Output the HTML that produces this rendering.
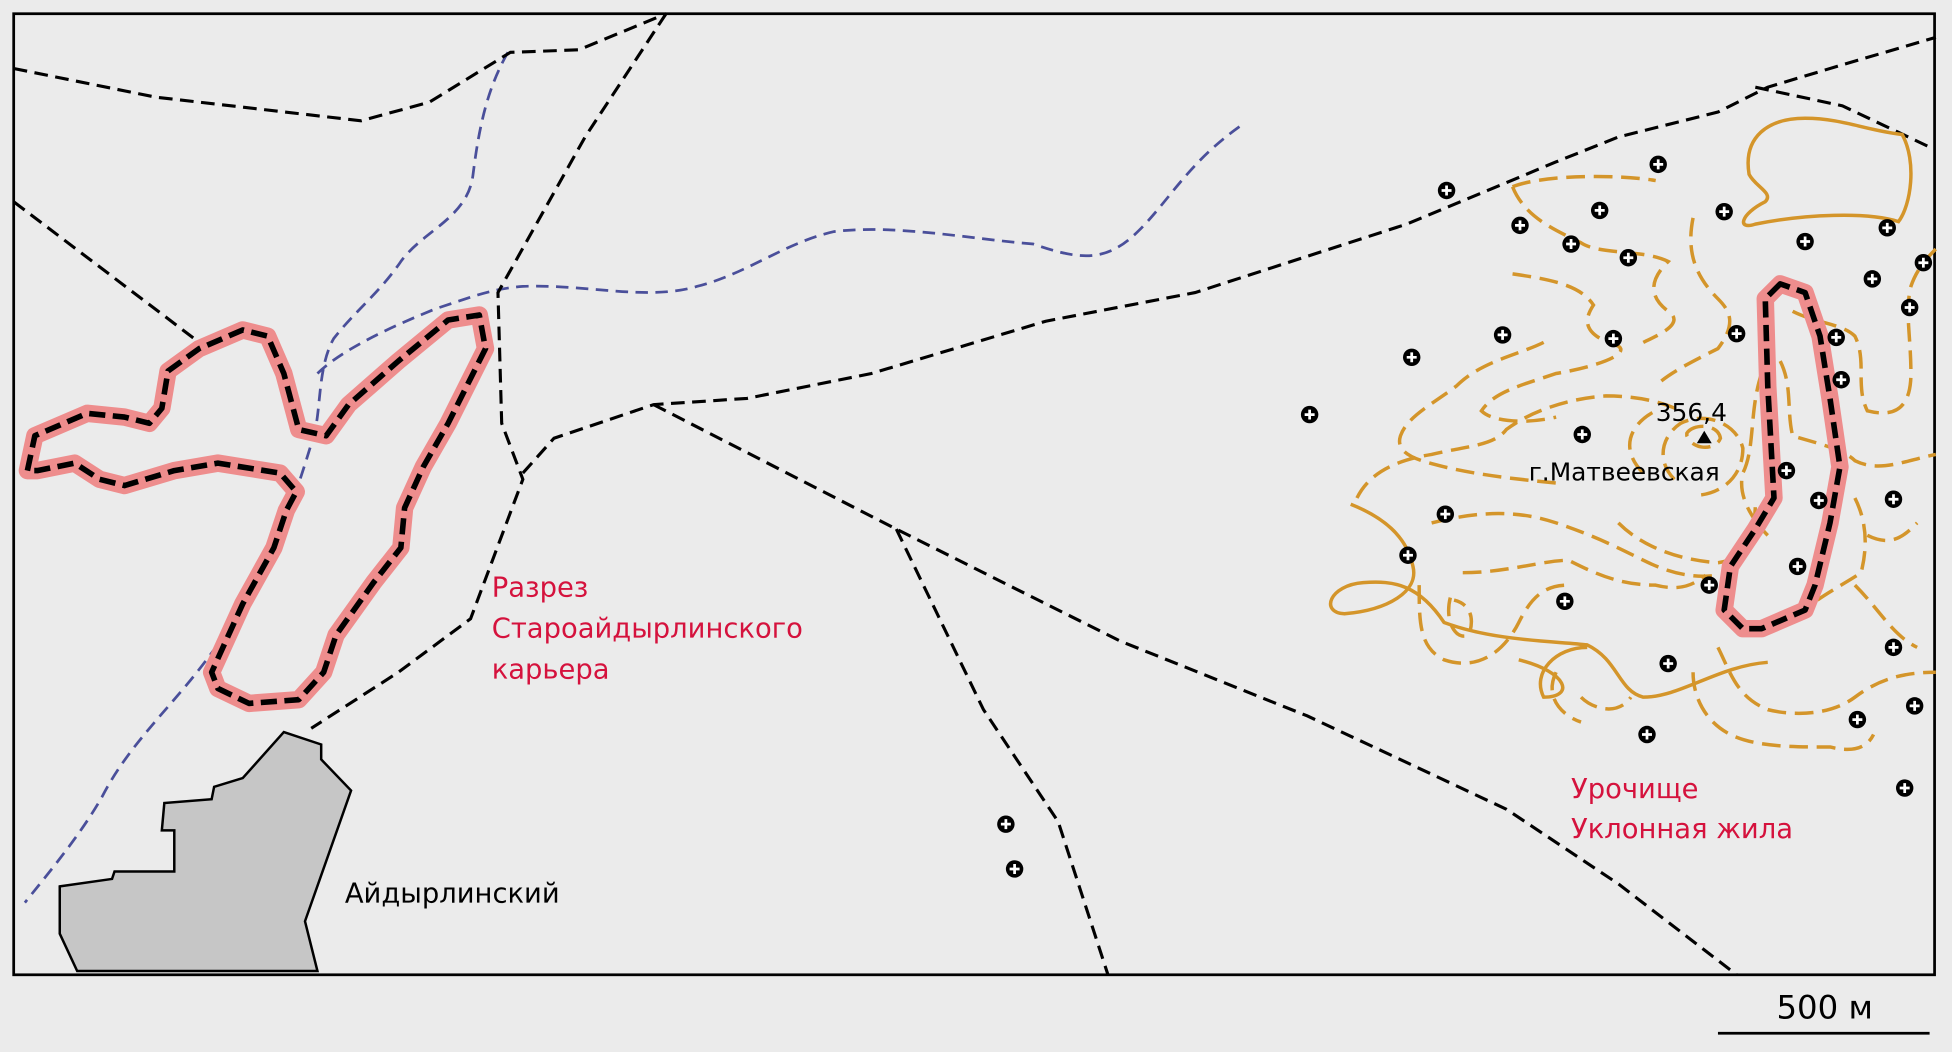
<!DOCTYPE html>
<html><head><meta charset="utf-8"><style>
html,body{margin:0;padding:0;background:#ebebeb;}
svg{display:block;}
text{font-family:"DejaVu Sans","Liberation Sans",sans-serif;}
</style></head><body>
<svg width="1952" height="1052" viewBox="0 0 1568 845" xmlns="http://www.w3.org/2000/svg">
<rect x="0" y="0" width="1568" height="845" fill="#ebebeb"/>
<rect x="11" y="11" width="1543" height="772" fill="#ebebeb" stroke="#000" stroke-width="2.2"/>
<defs>
<g id="m"><circle r="7" fill="#000"/><path d="M-4 0H4M0 -4V4" stroke="#fff" stroke-width="2.2"/></g>
<path id="p1" d="M22 378 L28 350 L70 332 L100 335 L120 340 L130 328 L135 298 L160 280 L195 265 L215 270 L228 300 L240 345 L262 350 L280 325 L320 290 L360 257 L385 253 L390 280 L380 300 L360 340 L340 375 L325 408 L322 440 L300 468 L270 510 L260 540 L240 562 L200 565 L175 553 L170 540 L195 485 L220 440 L230 410 L238 395 L225 380 L175 372 L140 378 L100 390 L80 385 L60 372 L30 378 Z"/>
<path id="p2" d="M1430 228 L1418 240 L1420 310 L1425 400 L1410 425 L1390 455 L1385 490 L1400 505 L1415 505 L1450 490 L1458 470 L1470 420 L1478 375 L1470 320 L1462 270 L1450 235 Z"/>
</defs>
<!-- rivers -->
<g fill="none" stroke="#4a4f9a" stroke-width="2.2" stroke-dasharray="10 6">
<path d="M408 42 C392 70 385 100 380 140 C376 175 340 185 322 210 C305 235 285 250 268 272 C255 295 258 330 252 350 C240 390 230 420 212 455 C195 490 175 520 150 550 C125 580 100 605 82 640 C65 670 40 700 20 725"/>
<path d="M255 300 C275 280 320 260 350 248 C380 238 395 232 420 230 C470 228 520 242 560 230 C600 220 630 195 670 186 C720 180 780 192 830 196 C870 210 890 210 915 185 C940 160 955 130 998 100"/>
</g>
<!-- roads -->
<g fill="none" stroke="#000" stroke-width="2.5" stroke-dasharray="11 6">
<path d="M11 55 L125 78 L290 97 L345 82 L410 42 L465 40 L535 11"/>
<path d="M11 162 L160 275"/>
<path d="M535 11 L470 110 L400 235 L403 340 L420 385 L378 497 L320 540 L250 585"/>
<path d="M420 380 L445 352 L525 325 L600 320 L700 300 L840 258 L960 235 L1130 180 L1250 130 L1300 110 L1380 90 L1420 70 L1480 52 L1555 30"/>
<path d="M1410 70 L1480 85 L1554 120"/>
<path d="M525 325 L720 425 L900 515 L1050 575 L1210 650 L1300 710 L1395 783"/>
<path d="M720 425 L790 570 L850 660 L890 783"/>
</g>
<!-- contours -->
<g fill="none" stroke="#d4952a" stroke-width="2.8">
<path d="M1405 140 C1400 110 1420 95 1450 95 C1480 95 1500 105 1528 108 C1540 130 1535 165 1525 178 C1500 170 1450 172 1410 180 C1395 185 1398 172 1418 162 C1425 155 1410 150 1405 140Z"/>
<path d="M1085 405 C1110 415 1130 430 1135 455 C1140 475 1115 490 1080 493 C1060 492 1068 470 1095 468 C1120 466 1140 470 1160 500 C1200 515 1250 515 1275 518 C1300 530 1300 555 1320 560 C1350 560 1380 535 1420 532"/>
<path d="M1220 530 C1260 540 1265 560 1240 560 C1230 540 1250 520 1275 520"/>
</g>
<g fill="none" stroke="#d4952a" stroke-width="2.8" stroke-dasharray="15 7">
<path d="M1215 150 C1240 140 1300 140 1330 145 M1215 150 C1225 175 1250 185 1270 195 C1285 205 1320 200 1340 210 C1330 220 1320 235 1340 250 C1355 260 1330 270 1320 275"/>
<path d="M1360 175 C1355 200 1360 220 1380 240 C1390 250 1395 260 1380 280 C1360 290 1340 300 1330 310"/>
<path d="M1215 220 C1250 225 1270 230 1280 245 C1270 260 1275 270 1300 278 C1310 285 1280 295 1250 300 C1220 310 1200 315 1190 330 C1200 340 1230 340 1250 335"/>
<path d="M1240 275 C1220 285 1190 290 1170 310 C1150 325 1130 335 1125 350 C1120 365 1140 370 1160 375 C1190 382 1220 385 1250 388"/>
<path d="M1090 400 C1100 380 1120 370 1150 365 C1180 358 1200 358 1210 345 C1230 330 1260 320 1290 318 C1320 318 1340 325 1350 330"/>
<path d="M1150 420 C1190 410 1220 410 1250 420 C1280 430 1300 440 1320 450 C1340 460 1360 465 1380 462"/>
<path d="M1300 420 C1320 440 1350 450 1380 452 C1400 450 1410 430 1410 405"/>
<path d="M1320 380 C1300 360 1310 340 1330 330 M1345 385 C1330 370 1335 350 1350 340 C1370 330 1395 340 1400 360 C1400 385 1380 398 1360 398"/>
<path d="M1355 348 C1360 340 1380 340 1382 352 C1378 362 1360 362 1355 350Z"/>
<path d="M1165 480 C1160 500 1170 515 1180 510 C1185 495 1180 485 1168 482"/>
<path d="M1140 470 C1140 500 1140 520 1160 530 C1190 540 1210 520 1220 500 C1230 480 1240 470 1260 470"/>
<path d="M1175 460 C1210 460 1240 450 1260 450 C1280 460 1300 470 1330 470 C1350 475 1360 470 1370 462"/>
<path d="M1440 250 C1460 260 1480 260 1490 270 C1500 290 1490 310 1500 330 C1520 335 1535 330 1535 300 C1535 270 1530 250 1535 230 C1540 215 1550 205 1555 200"/>
<path d="M1430 290 C1440 310 1435 330 1440 350 C1455 355 1480 360 1490 370 C1510 380 1530 370 1555 365"/>
<path d="M1490 400 C1500 420 1500 440 1495 460 C1480 470 1460 480 1450 490"/>
<path d="M1500 430 C1520 440 1530 430 1540 420 M1490 470 C1510 490 1520 510 1540 520"/>
<path d="M1380 520 C1390 540 1395 560 1420 570 C1440 575 1470 575 1490 560 C1510 545 1530 540 1555 540"/>
<path d="M1360 540 C1360 560 1370 580 1390 590 C1410 600 1440 600 1470 600 C1490 605 1500 600 1505 590"/>
<path d="M1270 560 C1280 570 1300 575 1310 560 M1250 540 C1240 560 1255 575 1270 580"/>
<path d="M1415 300 C1405 330 1410 360 1400 380 C1395 400 1410 420 1420 430"/>
</g>
<!-- pink outlines -->
<g fill="none" stroke-linejoin="round">
<use href="#p1" stroke="#ee8d8d" stroke-width="14"/>
<use href="#p1" stroke="#000" stroke-width="4.5" stroke-dasharray="13 6"/>
<use href="#p2" stroke="#ee8d8d" stroke-width="14"/>
<use href="#p2" stroke="#000" stroke-width="4.5" stroke-dasharray="13 6"/>
</g>
<!-- village -->
<path d="M48 712 L90 706 L92 700 L140 700 L140 667 L130 667 L132 645 L170 642 L172 632 L195 625 L228 588 L258 598 L258 610 L282 635 L245 740 L255 780 L62 780 L48 750 Z" fill="#c6c6c6" stroke="#000" stroke-width="2"/>
<!-- markers -->
<g>
<use href="#m" x="1162" y="153"/><use href="#m" x="1332" y="132"/><use href="#m" x="1285" y="169"/><use href="#m" x="1221" y="181"/><use href="#m" x="1262" y="196"/><use href="#m" x="1308" y="207"/><use href="#m" x="1385" y="170"/><use href="#m" x="1450" y="194"/><use href="#m" x="1516" y="183"/><use href="#m" x="1504" y="224"/><use href="#m" x="1545" y="211"/><use href="#m" x="1534" y="247"/><use href="#m" x="1134" y="287"/><use href="#m" x="1207" y="269"/><use href="#m" x="1296" y="272"/><use href="#m" x="1395" y="268"/><use href="#m" x="1475" y="271"/><use href="#m" x="1479" y="305"/><use href="#m" x="1052" y="333"/><use href="#m" x="1271" y="349"/><use href="#m" x="1435" y="378"/><use href="#m" x="1461" y="402"/><use href="#m" x="1521" y="401"/><use href="#m" x="1161" y="413"/><use href="#m" x="1131" y="446"/><use href="#m" x="1444" y="455"/><use href="#m" x="1373" y="470"/><use href="#m" x="1257" y="483"/><use href="#m" x="1340" y="533"/><use href="#m" x="1521" y="520"/><use href="#m" x="1538" y="567"/><use href="#m" x="1492" y="578"/><use href="#m" x="1323" y="590"/><use href="#m" x="1530" y="633"/><use href="#m" x="808" y="662"/><use href="#m" x="815" y="698"/>
</g>
<path d="M1363 356 L1369 346 L1375 356 Z" fill="#000"/>
<g font-size="22">
<text x="395" y="479" fill="#d5123d">Разрез</text>
<text x="395" y="512" fill="#d5123d">Староайдырлинского</text>
<text x="395" y="545" fill="#d5123d">карьера</text>
<text x="277" y="725" fill="#000">Айдырлинский</text>
<text x="1262" y="641" fill="#d5123d">Урочище</text>
<text x="1262" y="673" fill="#d5123d">Уклонная жила</text>
<text x="1330" y="338" fill="#000" font-size="20">356,4</text>
<text x="1228" y="386" fill="#000" font-size="20">г.Матвеевская</text>
<text x="1427" y="818" fill="#000" font-size="26">500 м</text>
</g>
<line x1="1380" y1="830" x2="1550" y2="830" stroke="#000" stroke-width="2.2"/>
</svg>
</body></html>
